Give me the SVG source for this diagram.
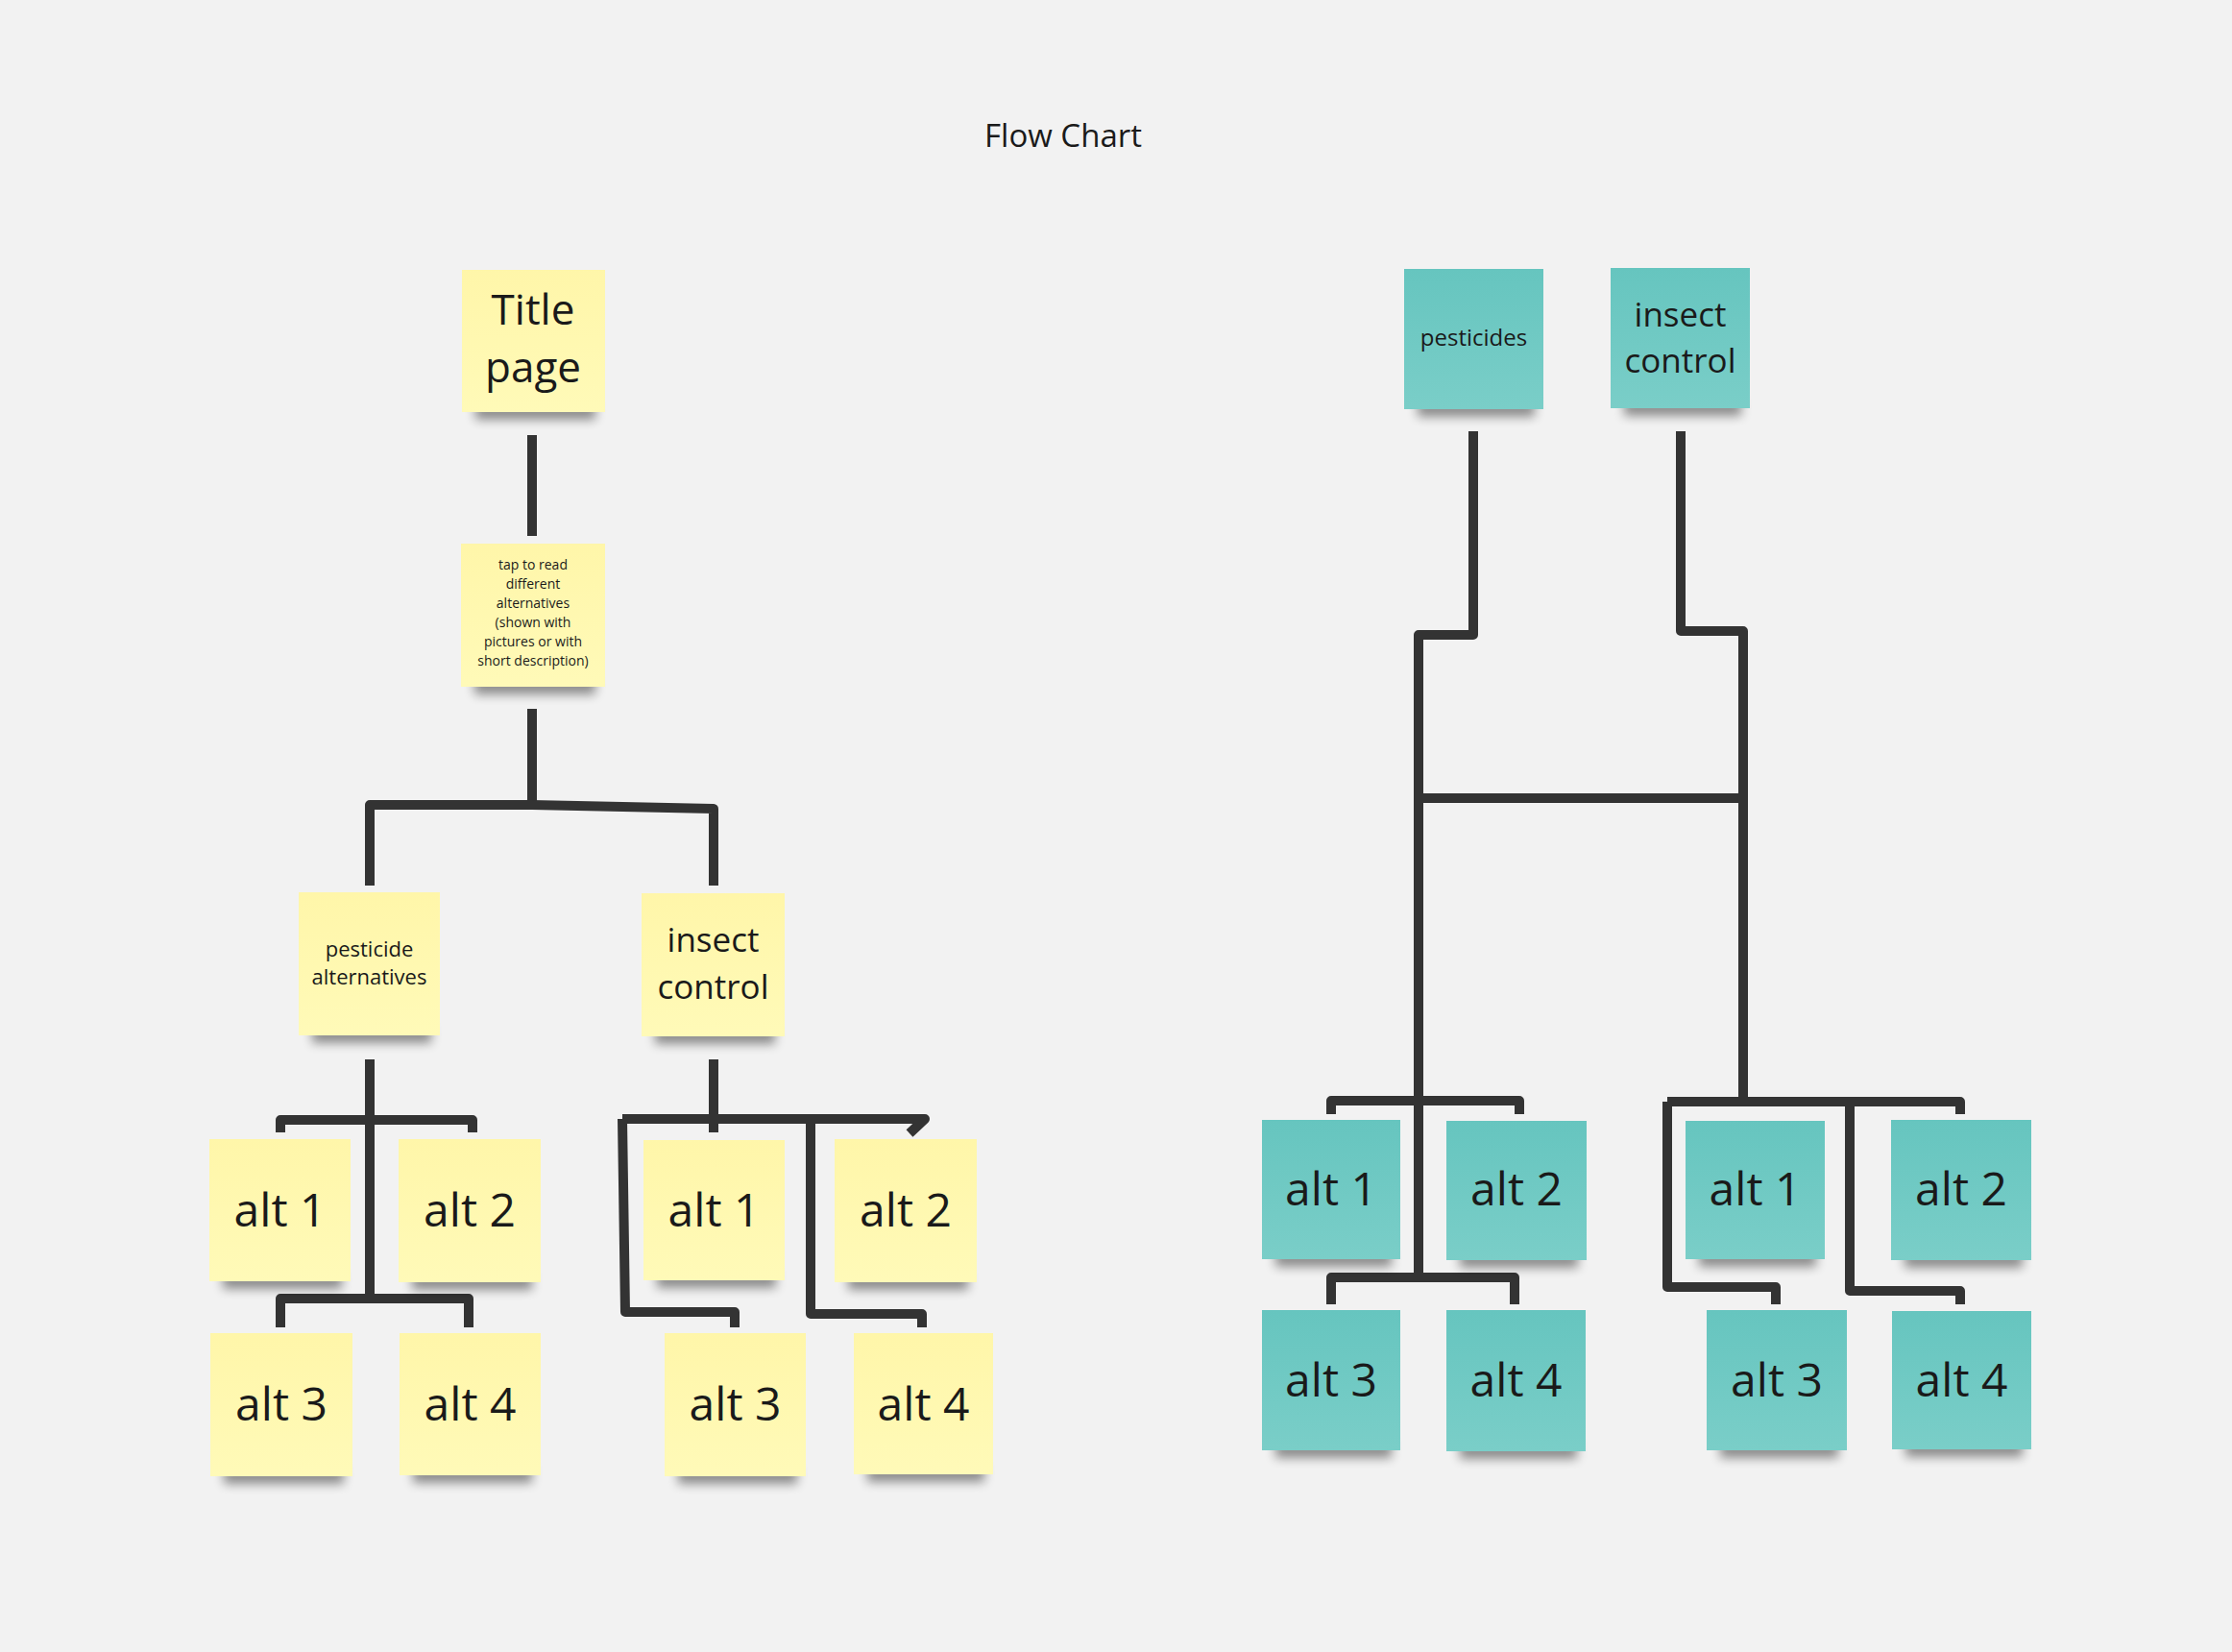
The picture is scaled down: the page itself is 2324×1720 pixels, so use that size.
<svg xmlns="http://www.w3.org/2000/svg" width="2324" height="1720" viewBox="0 0 2324 1720">
  <defs>
    <filter id="blur" x="-20%" y="-150%" width="140%" height="400%">
      <feGaussianBlur stdDeviation="5.5"/>
    </filter>
    <linearGradient id="gy" x1="0" y1="0" x2="0" y2="1">
      <stop offset="0" stop-color="#fff6a9"/>
      <stop offset="1" stop-color="#fffab8"/>
    </linearGradient>
    <linearGradient id="gt" x1="0" y1="0" x2="0" y2="1">
      <stop offset="0" stop-color="#66c5bf"/>
      <stop offset="1" stop-color="#7acec8"/>
    </linearGradient>
  </defs>
  <style>
    .bg { fill: #f2f2f2; }
    .y { fill: url(#gy); }
    .t { fill: url(#gt); }
    .sh { fill: #000; opacity: 0.42; filter: url(#blur); }
    .lbl { font-family: "Open Sans", "Liberation Sans", sans-serif; fill: #1a1a1a; text-anchor: middle; }
    .alt { font-size: 48px; }
    .big { font-size: 35px; }
    .conn path { fill: none; stroke: #333333; stroke-width: 10; stroke-linejoin: round; stroke-linecap: butt; }
  </style>
  <rect class="bg" x="0" y="0" width="2324" height="1720"/>
  <text class="lbl" x="1107" y="153" font-size="33">Flow Chart</text>

  <g id="connectors" class="conn">
    <path d="M554,453 V558"/>
    <path d="M554,738 V840"/>
    <path d="M385,922 V838 L554,838 L743,842 V922"/>
    <path d="M385,1103 V1352"/>
    <path d="M292,1179 V1166 H492 V1179"/>
    <path d="M292,1382 V1352 H488 V1382"/>
    <path d="M743,1103 V1179"/>
    <path d="M648,1165 H963 L947,1180"/>
    <path d="M648,1165 L651,1366 H765 V1382"/>
    <path d="M844,1165 V1368 H960 V1382"/>
    <path d="M1534,449 V661 H1477 V1335"/>
    <path d="M1750,449 V657 H1815 V1147"/>
    <path d="M1477,831 H1815"/>
    <path d="M1386,1160 V1146 H1582 V1160"/>
    <path d="M1386,1358 V1330 H1577 V1358"/>
    <path d="M1736,1147 H2041 V1160"/>
    <path d="M1736,1147 V1340 H1849 V1358"/>
    <path d="M1926,1147 V1344 H2041 V1358"/>
  </g>

  <g id="title-page">
    <rect class="sh" x="495" y="419" width="125" height="18"/>
    <rect class="y" x="481" y="281" width="149" height="148"/>
    <text class="lbl" x="555" y="338" font-size="44">Title</text>
    <text class="lbl" x="555" y="398" font-size="44">page</text>
  </g>
  <g id="tap-note">
    <rect class="sh" x="494" y="705" width="126" height="18"/>
    <rect class="y" x="480" y="566" width="150" height="149"/>
    <text class="lbl" font-size="14" x="555" y="593">tap to read</text>
    <text class="lbl" font-size="14" x="555" y="613">different</text>
    <text class="lbl" font-size="14" x="555" y="633">alternatives</text>
    <text class="lbl" font-size="14" x="555" y="653">(shown with</text>
    <text class="lbl" font-size="14" x="555" y="673">pictures or with</text>
    <text class="lbl" font-size="14" x="555" y="693">short description)</text>
  </g>
  <g id="pesticide-alternatives">
    <rect class="sh" x="325" y="1068" width="124" height="18"/>
    <rect class="y" x="311" y="929" width="147" height="149"/>
    <text class="lbl" font-size="22" x="384.5" y="996">pesticide</text>
    <text class="lbl" font-size="22" x="384.5" y="1025">alternatives</text>
  </g>
  <g id="insect-control-yellow">
    <rect class="sh" x="682" y="1069" width="125" height="18"/>
    <rect class="y" x="668" y="930" width="149" height="149"/>
    <text class="lbl big" x="742.5" y="991">insect</text>
    <text class="lbl big" x="742.5" y="1040">control</text>
  </g>

  <g id="y-alt1">
    <rect class="sh" x="232" y="1324" width="124" height="18"/>
    <rect class="y" x="218" y="1186" width="147" height="148"/>
    <text class="lbl alt" x="291.5" y="1277">alt 1</text>
  </g>
  <g id="y-alt2">
    <rect class="sh" x="429" y="1325" width="125" height="18"/>
    <rect class="y" x="415" y="1186" width="148" height="149"/>
    <text class="lbl alt" x="489" y="1277">alt 2</text>
  </g>
  <g id="y-alt3">
    <rect class="sh" x="233" y="1527" width="125" height="18"/>
    <rect class="y" x="219" y="1388" width="148" height="149"/>
    <text class="lbl alt" x="293" y="1479">alt 3</text>
  </g>
  <g id="y-alt4">
    <rect class="sh" x="430" y="1526" width="124" height="18"/>
    <rect class="y" x="416" y="1388" width="147" height="148"/>
    <text class="lbl alt" x="489.5" y="1479">alt 4</text>
  </g>
  <g id="y-b-alt1">
    <rect class="sh" x="684" y="1323" width="124" height="18"/>
    <rect class="y" x="670" y="1187" width="147" height="146"/>
    <text class="lbl alt" x="743.5" y="1277">alt 1</text>
  </g>
  <g id="y-b-alt2">
    <rect class="sh" x="883" y="1325" width="125" height="18"/>
    <rect class="y" x="869" y="1186" width="148" height="149"/>
    <text class="lbl alt" x="943" y="1277">alt 2</text>
  </g>
  <g id="y-b-alt3">
    <rect class="sh" x="706" y="1527" width="124" height="18"/>
    <rect class="y" x="692" y="1388" width="147" height="149"/>
    <text class="lbl alt" x="765.5" y="1479">alt 3</text>
  </g>
  <g id="y-b-alt4">
    <rect class="sh" x="903" y="1525" width="122" height="18"/>
    <rect class="y" x="889" y="1388" width="145" height="147"/>
    <text class="lbl alt" x="961.5" y="1479">alt 4</text>
  </g>

  <g id="pesticides">
    <rect class="sh" x="1476" y="416" width="122" height="18"/>
    <rect class="t" x="1462" y="280" width="145" height="146"/>
    <text class="lbl" font-size="24" x="1534.5" y="360">pesticides</text>
  </g>
  <g id="insect-control-teal">
    <rect class="sh" x="1691" y="415" width="122" height="18"/>
    <rect class="t" x="1677" y="279" width="145" height="146"/>
    <text class="lbl big" x="1749.5" y="340">insect</text>
    <text class="lbl big" x="1749.5" y="388">control</text>
  </g>

  <g id="t-alt1">
    <rect class="sh" x="1328" y="1301" width="121" height="18"/>
    <rect class="t" x="1314" y="1166" width="144" height="145"/>
    <text class="lbl alt" x="1386" y="1255">alt 1</text>
  </g>
  <g id="t-alt2">
    <rect class="sh" x="1520" y="1302" width="123" height="18"/>
    <rect class="t" x="1506" y="1167" width="146" height="145"/>
    <text class="lbl alt" x="1579" y="1255">alt 2</text>
  </g>
  <g id="t-alt3">
    <rect class="sh" x="1328" y="1500" width="121" height="18"/>
    <rect class="t" x="1314" y="1364" width="144" height="146"/>
    <text class="lbl alt" x="1386" y="1454">alt 3</text>
  </g>
  <g id="t-alt4">
    <rect class="sh" x="1520" y="1501" width="122" height="18"/>
    <rect class="t" x="1506" y="1364" width="145" height="147"/>
    <text class="lbl alt" x="1578.5" y="1454">alt 4</text>
  </g>
  <g id="t-b-alt1">
    <rect class="sh" x="1769" y="1301" width="122" height="18"/>
    <rect class="t" x="1755" y="1167" width="145" height="144"/>
    <text class="lbl alt" x="1827.5" y="1255">alt 1</text>
  </g>
  <g id="t-b-alt2">
    <rect class="sh" x="1983" y="1302" width="123" height="18"/>
    <rect class="t" x="1969" y="1166" width="146" height="146"/>
    <text class="lbl alt" x="2042" y="1255">alt 2</text>
  </g>
  <g id="t-b-alt3">
    <rect class="sh" x="1791" y="1500" width="123" height="18"/>
    <rect class="t" x="1777" y="1364" width="146" height="146"/>
    <text class="lbl alt" x="1850" y="1454">alt 3</text>
  </g>
  <g id="t-b-alt4">
    <rect class="sh" x="1984" y="1499" width="122" height="18"/>
    <rect class="t" x="1970" y="1365" width="145" height="144"/>
    <text class="lbl alt" x="2042.5" y="1454">alt 4</text>
  </g>
</svg>
